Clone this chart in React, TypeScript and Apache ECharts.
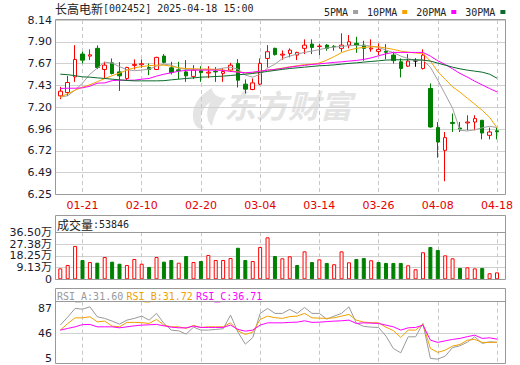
import React, { useEffect, useRef } from 'react';
import * as echarts from 'echarts';

// ---------- data ----------
const dates = ['01-16','01-17','01-20','01-21','01-22','01-23','01-24','01-27','02-05','02-06','02-07','02-10','02-11','02-12','02-13','02-14','02-17','02-18','02-19','02-20','02-21','02-24','02-25','02-26','02-27','02-28','03-03','03-04','03-05','03-06','03-07','03-10','03-11','03-12','03-13','03-14','03-17','03-18','03-19','03-20','03-21','03-24','03-25','03-26','03-27','03-28','03-31','04-01','04-02','04-03','04-07','04-08','04-09','04-10','04-11','04-14','04-15','04-16','04-17','04-18'];
const shownDates = ['01-21','02-10','02-20','03-04','03-14','03-26','04-08','04-18'];

const open = [7.318,7.355,7.524,7.771,7.749,7.833,7.604,7.676,7.578,7.507,7.648,7.655,7.626,7.604,7.749,7.622,7.600,7.578,7.529,7.590,7.565,7.585,7.562,7.597,7.670,7.445,7.387,7.445,7.724,7.833,7.760,7.778,7.760,7.833,7.879,7.852,7.868,7.855,7.833,7.868,7.887,7.868,7.826,7.800,7.800,7.760,7.687,7.640,7.697,7.615,7.398,6.975,6.728,7.030,6.970,7.025,7.035,7.054,6.891,6.940];
const close = [7.369,7.463,7.713,7.705,7.763,7.626,7.651,7.561,7.535,7.626,7.659,7.666,7.604,7.735,7.681,7.572,7.590,7.535,7.597,7.570,7.575,7.578,7.582,7.651,7.488,7.391,7.459,7.670,7.796,7.765,7.770,7.814,7.789,7.868,7.843,7.858,7.833,7.850,7.868,7.904,7.868,7.833,7.836,7.822,7.790,7.700,7.615,7.695,7.697,7.760,6.981,6.818,6.866,7.020,6.960,7.035,7.072,6.916,6.927,6.930];
const low = [7.282,7.318,7.470,7.670,7.706,7.608,7.507,7.550,7.372,7.488,7.604,7.622,7.543,7.597,7.670,7.550,7.500,7.470,7.500,7.470,7.510,7.470,7.470,7.578,7.409,7.344,7.380,7.434,7.626,7.755,7.710,7.735,7.706,7.771,7.771,7.760,7.807,7.807,7.796,7.833,7.785,7.698,7.796,7.760,7.714,7.668,7.518,7.630,7.633,7.604,6.975,6.649,6.394,6.927,6.927,6.945,6.945,6.847,6.847,6.847];
const high = [7.416,7.535,7.868,7.796,7.822,7.865,7.687,7.724,7.684,7.633,7.713,7.713,7.669,7.742,7.771,7.687,7.687,7.706,7.651,7.640,7.640,7.630,7.620,7.676,7.716,7.496,7.507,7.724,7.868,7.840,7.810,7.833,7.796,7.930,7.930,7.879,7.879,7.868,7.996,7.977,7.958,7.915,7.930,7.887,7.879,7.796,7.724,7.771,7.724,7.822,7.452,7.035,6.927,7.127,7.035,7.108,7.108,7.054,6.975,6.975];

const ma5 = [7.304,7.320,7.380,7.456,7.553,7.619,7.684,7.673,7.635,7.602,7.591,7.597,7.608,7.640,7.662,7.651,7.619,7.605,7.605,7.605,7.605,7.605,7.619,7.629,7.608,7.543,7.521,7.553,7.619,7.662,7.722,7.749,7.771,7.789,7.803,7.820,7.836,7.847,7.854,7.861,7.865,7.865,7.858,7.843,7.814,7.787,7.749,7.722,7.702,7.706,7.629,7.488,7.336,7.184,6.945,6.938,6.951,6.972,6.989,6.975];
const ma10 = [7.304,7.342,7.380,7.412,7.439,7.472,7.505,7.537,7.564,7.597,7.622,7.635,7.646,7.651,7.651,7.640,7.622,7.615,7.611,7.608,7.608,7.605,7.597,7.590,7.578,7.568,7.568,7.586,7.597,7.605,7.619,7.633,7.644,7.657,7.662,7.673,7.706,7.744,7.787,7.814,7.833,7.843,7.850,7.850,7.836,7.822,7.803,7.792,7.782,7.778,7.695,7.581,7.499,7.416,7.358,7.293,7.228,7.162,7.086,6.972];
const ma20 = [7.398,7.401,7.401,7.405,7.423,7.456,7.459,7.483,7.488,7.488,7.488,7.499,7.507,7.532,7.553,7.568,7.586,7.594,7.597,7.597,7.597,7.597,7.594,7.583,7.575,7.568,7.575,7.586,7.597,7.605,7.615,7.629,7.640,7.648,7.659,7.665,7.673,7.681,7.687,7.695,7.702,7.713,7.730,7.752,7.774,7.789,7.789,7.789,7.789,7.789,7.749,7.698,7.659,7.611,7.561,7.521,7.477,7.437,7.398,7.361];
const ma30 = [7.553,7.548,7.537,7.524,7.521,7.513,7.507,7.499,7.492,7.485,7.481,7.481,7.481,7.481,7.483,7.492,7.499,7.507,7.513,7.521,7.524,7.528,7.532,7.539,7.546,7.553,7.561,7.572,7.583,7.594,7.605,7.615,7.622,7.629,7.637,7.644,7.648,7.654,7.662,7.670,7.676,7.684,7.691,7.698,7.706,7.709,7.709,7.709,7.709,7.706,7.695,7.673,7.651,7.629,7.611,7.597,7.586,7.575,7.553,7.510];

const volume = [85000,111000,259000,150000,134000,129000,173000,137000,121000,111000,158000,121000,96000,173000,137000,150000,129000,181000,134000,142000,189000,150000,150000,165000,245000,150000,142000,251000,326000,181000,163000,179000,111000,217000,134000,155000,127000,117000,217000,132000,158000,165000,148000,134000,127000,127000,127000,109000,78000,210000,251000,228000,186000,163000,88000,93000,85000,88000,47000,53846];

const rsiA = [59.5,72.5,86.6,85.4,89.2,73.0,70.4,66.0,61.1,67.6,70.4,74.1,67.6,78.5,62.2,51.4,50.2,44.9,56.2,51.4,51.4,52.5,53.5,75.7,48.1,28.6,39.2,78.5,86.6,78.5,78.5,85.0,78.5,88.2,78.5,78.5,69.2,74.1,78.5,89.2,62.7,57.4,56.2,55.7,41.6,21.6,14.5,40.5,40.5,62.2,5.4,4.3,9.1,23.0,25.9,31.9,40.5,29.8,32.4,31.60];
const rsiB = [51.4,61.9,71.3,71.3,73.0,64.8,66.0,57.9,56.7,63.9,63.9,63.5,62.2,68.7,59.5,56.7,56.7,54.1,59.0,55.7,56.7,56.7,56.7,63.2,50.2,44.4,48.1,68.7,74.1,71.6,70.4,73.3,74.1,78.5,71.3,70.8,70.4,71.3,74.1,76.8,67.6,64.3,63.5,63.2,56.2,50.5,39.5,51.4,51.4,61.1,21.6,15.2,18.9,25.4,28.1,35.1,36.3,31.4,31.4,31.72];
const rsiC = [51.4,54.1,56.7,60.3,60.6,56.7,56.7,56.7,55.1,56.7,58.3,59.5,60.0,60.6,58.3,56.2,55.1,55.1,57.9,55.7,55.7,55.7,55.7,59.5,52.5,49.7,51.4,59.5,63.2,63.2,63.2,63.9,64.3,66.5,63.9,64.3,65.2,66.0,66.5,67.6,62.2,63.2,62.7,62.2,59.5,56.7,51.4,55.1,55.7,59.5,35.1,31.4,34.0,36.3,37.9,40.8,43.2,37.9,38.9,36.71];

const priceTicks = ['6.25','6.49','6.72','6.96','7.20','7.43','7.67','7.90','8.14'];
const volTicks = ['0','9.13万','18.25万','27.38万','36.50万'];
const rsiTicks = [5, 46, 87];

// ---------- styles ----------
const RED = '#ff0000';
const GREEN = '#008000';
const C5 = '#a0a0a0';
const C10 = '#f5a300';
const C20 = '#ff00ff';
const C30 = '#0a6b2a';
const GRIDC = '#d0d0d0';
const DASH = '#c8c8c8';
const FRAME = '#999999';
const LBL = '#1a1a2e';
const AXFONT = 'DejaVu Sans, Noto Sans CJK SC, sans-serif';
const MONO = 'DejaVu Sans Mono, monospace';
const CJK = 'Noto Sans CJK SC, sans-serif';
const WM = '#e4e4e4';

const LOGO_D = 'M22 0 C8 8 0 20 4 34 C6 40 10 42 14 40 C8 34 10 22 20 14 C16 24 16 32 22 38 C24 26 30 16 36 10 C28 10 22 6 22 0 Z';

const labelIdx = (i: number) => shownDates.includes(dates[i]);

const DX = 60.3;
const DW = 436.7;

// RSI panel geometry
const RSI_TOP = 301.7;
const RSI_H = 61.6;
const RSI_MIN = -2.5;
const RSI_MAX = 97.5;
const rsiY = (v: number) => RSI_TOP + RSI_H * (RSI_MAX - v) / (RSI_MAX - RSI_MIN);

let logoRegistered = false;
function ensureLogo() {
  if (logoRegistered) return;
  echarts.graphic.registerShape('logo', echarts.graphic.extendPath(LOGO_D, {}));
  logoRegistered = true;
}

function buildOption() {
  const candleData = dates.map((_, i) => {
    const v = [open[i], close[i], low[i], high[i]];
    if (open[i] === close[i]) {
      return { value: v, itemStyle: { color: '#000', color0: '#000', borderColor: '#000', borderColor0: '#000' } };
    }
    return v;
  });
  const volData = volume.map((v, i) => {
    const up = i === 0 ? close[i] >= open[i] : close[i] >= close[i - 1];
    return {
      value: v,
      itemStyle: up
        ? { color: '#ffffff', borderColor: RED, borderWidth: 1 }
        : { color: GREEN, borderColor: GREEN, borderWidth: 1 },
    };
  });

  const catAxis = (gridIndex: number, showLabel: boolean) => ({
    type: 'category',
    gridIndex,
    data: dates,
    boundaryGap: false,
    axisLine: { show: false },
    axisTick: { show: false },
    axisLabel: {
      show: showLabel,
      interval: (i: number) => labelIdx(i),
      color: '#e60000',
      fontSize: 11,
      fontFamily: AXFONT,
      margin: 5,
    },
    splitLine: {
      show: true,
      interval: (i: number) => labelIdx(i),
      lineStyle: { color: DASH, type: [4, 3], width: 1 },
    },
  });
  const hiddenX = (gridIndex: number) => ({ type: 'value', gridIndex, show: false, min: 0, max: 1 });

  const labelY = (gridIndex: number, min: number, max: number, interval: number, fmt: (v: number) => string, split: boolean) => ({
    type: 'value',
    gridIndex,
    min,
    max,
    interval,
    axisLine: { show: false },
    axisTick: { show: false },
    axisLabel: { color: LBL, fontSize: 11, fontFamily: AXFONT, margin: 3, formatter: fmt, showMinLabel: true, showMaxLabel: true },
    splitLine: { show: split, lineStyle: { color: GRIDC, width: 1 } },
  });
  const hiddenY = (gridIndex: number, min: number, max: number) => ({ type: 'value', gridIndex, min, max, show: false, splitLine: { show: false } });

  const frame = (y: number, h: number, header?: number) => {
    const els: any[] = [
      { type: 'rect', z: 100, silent: true, shape: { x: 55.5, y: y + 0.5, width: 450, height: h }, style: { fill: 'none', stroke: FRAME, lineWidth: 1 } },
    ];
    if (header !== undefined) {
      els.push({ type: 'line', z: 100, silent: true, shape: { x1: 55.5, y1: header + 0.5, x2: 505.5, y2: header + 0.5 }, style: { stroke: FRAME, lineWidth: 1 } });
    }
    return els;
  };

  const rTop = rsiY(rsiTicks[2]);
  const rBot = rsiY(rsiTicks[0]);

  return {
    animation: false,
    backgroundColor: '#ffffff',
    legend: {
      data: ['5PMA', '10PMA', '20PMA', '30PMA'],
      left: 319,
      top: 2,
      align: 'right',
      icon: 'rect',
      itemWidth: 5,
      itemHeight: 4,
      itemGap: 9,
      selectedMode: false,
      textStyle: { fontFamily: MONO, fontSize: 10, color: '#222' },
    },
    grid: [
      { left: 55, top: 20, width: 450, height: 174.5 },
      { left: DX, top: 20, width: DW, height: 174.5 },
      { left: 55, top: 232.3, width: 450, height: 47 },
      { left: DX, top: 232.3, width: DW, height: 47 },
      { left: 55, top: rTop, width: 450, height: rBot - rTop },
      { left: DX, top: RSI_TOP, width: DW, height: RSI_H },
    ],
    xAxis: [
      hiddenX(0),
      catAxis(1, true),
      hiddenX(2),
      catAxis(3, false),
      hiddenX(4),
      catAxis(5, false),
    ],
    yAxis: [
      labelY(0, 0, 8, 1, (v: number) => priceTicks[Math.round(v)] ?? '', true),
      hiddenY(1, 6.25, 8.14),
      labelY(2, 0, 365000, 91250, (v: number) => volTicks[Math.round(v / 91250)] ?? '', true),
      hiddenY(3, 0, 365000),
      labelY(4, rsiTicks[0], rsiTicks[2], rsiTicks[1] - rsiTicks[0], (v: number) => String(Math.round(v)), false),
      hiddenY(5, RSI_MIN, RSI_MAX),
    ],
    graphic: [
      {
        type: 'logo', z: 0, silent: true, x: 190, y: 88, scaleX: 1, scaleY: 1,
        style: { fill: WM },
      },
      {
        type: 'text', z: 0, silent: true, x: 224, y: 88,
        style: { text: '东方财富', fontSize: 32, fontWeight: 'bold', fontStyle: 'italic', fontFamily: CJK, fill: WM },
      },
      {
        type: 'text', z: 100, silent: true, x: 55, y: 2,
        style: {
          text: '{a|长高电新}{b|[002452] 2025-04-18 15:00}',
          rich: {
            a: { fontFamily: CJK, fontSize: 12, fill: '#222' },
            b: { fontFamily: MONO, fontSize: 10, fill: '#222' },
          },
        },
      },
      {
        type: 'text', z: 100, silent: true, x: 57, y: 218,
        style: {
          text: '{a|成交量}{b|:53846}',
          rich: {
            a: { fontFamily: CJK, fontSize: 12, fill: '#222' },
            b: { fontFamily: MONO, fontSize: 10, fill: '#222' },
          },
        },
      },
      {
        type: 'text', z: 100, silent: true, x: 57, y: 290,
        style: {
          text: '{a|RSI_A:31.60} {b|RSI_B:31.72} {c|RSI_C:36.71}',
          rich: {
            a: { fontFamily: MONO, fontSize: 10, fill: '#999999' },
            b: { fontFamily: MONO, fontSize: 10, fill: '#f0a000' },
            c: { fontFamily: MONO, fontSize: 10, fill: '#ff00ff' },
          },
        },
      },
      ...frame(19, 175),
      ...frame(215, 64, 232),
      ...frame(288, 75, 301),
    ],
    series: [
      {
        type: 'candlestick',
        xAxisIndex: 1,
        yAxisIndex: 1,
        data: candleData,
        barWidth: 4,
        clip: false,
        itemStyle: { color: '#ffffff', color0: GREEN, borderColor: RED, borderColor0: GREEN, borderWidth: 1 },
        z: 2,
      },
      { name: '5PMA', type: 'line', xAxisIndex: 1, yAxisIndex: 1, data: ma5, showSymbol: false, symbol: 'none', color: C5, lineStyle: { width: 1, color: C5 }, z: 3 },
      { name: '10PMA', type: 'line', xAxisIndex: 1, yAxisIndex: 1, data: ma10, showSymbol: false, symbol: 'none', color: C10, lineStyle: { width: 1, color: C10 }, z: 3 },
      { name: '20PMA', type: 'line', xAxisIndex: 1, yAxisIndex: 1, data: ma20, showSymbol: false, symbol: 'none', color: C20, lineStyle: { width: 1, color: C20 }, z: 3 },
      { name: '30PMA', type: 'line', xAxisIndex: 1, yAxisIndex: 1, data: ma30, showSymbol: false, symbol: 'none', color: C30, lineStyle: { width: 1, color: C30 }, z: 3 },
      {
        type: 'bar', xAxisIndex: 3, yAxisIndex: 3, data: volData, barWidth: 4, clip: false, z: 2,
      },
      {
        name: 'RSI_A', type: 'line', xAxisIndex: 5, yAxisIndex: 5, data: rsiA, showSymbol: false, symbol: 'none',
        lineStyle: { width: 1, color: '#999999' }, color: '#999999', z: 3,
        markLine: {
          silent: true, symbol: 'none', label: { show: false },
          lineStyle: { color: GRIDC, type: 'solid', width: 1 },
          data: [{ yAxis: rsiTicks[1] }],
          z: 1,
        },
      },
      { name: 'RSI_B', type: 'line', xAxisIndex: 5, yAxisIndex: 5, data: rsiB, showSymbol: false, symbol: 'none', lineStyle: { width: 1, color: '#f0a000' }, color: '#f0a000', z: 3 },
      { name: 'RSI_C', type: 'line', xAxisIndex: 5, yAxisIndex: 5, data: rsiC, showSymbol: false, symbol: 'none', lineStyle: { width: 1, color: '#ff00ff' }, color: '#ff00ff', z: 3 },
    ],
  };
}

export default function App() {
  const ref = useRef<HTMLDivElement>(null);
  useEffect(() => {
    if (!ref.current) return;
    ensureLogo();
    const chart = echarts.init(ref.current, null, { renderer: 'svg' });
    chart.setOption(buildOption() as any);
    return () => chart.dispose();
  }, []);
  return <div ref={ref} style={{ position: 'fixed', left: 0, top: 0, width: 520, height: 365, background: '#fff' }} />;
}
